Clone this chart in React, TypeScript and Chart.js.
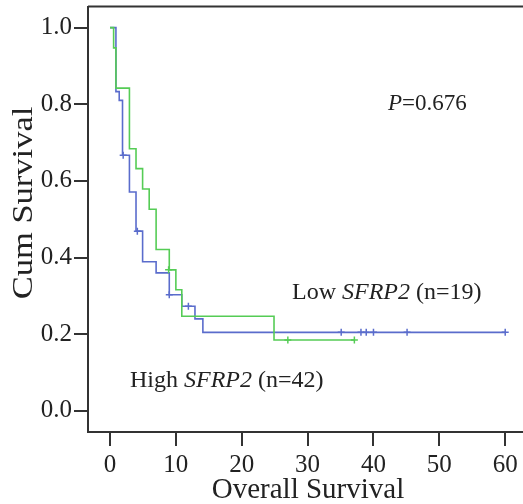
import React, { useEffect, useRef } from "react";
import { Chart, registerables } from "chart.js";

Chart.register(...registerables);

// Low SFRP2 (n=19) - green
const lowTimes = [0, 0.55, 0.9, 2.95, 3.95, 4.95, 5.95, 7.0, 9.0, 10.0, 10.9, 24.9, 37.1];
const lowSurv = [1.0, 0.947, 0.842, 0.684, 0.632, 0.579, 0.526, 0.421, 0.368, 0.316, 0.247, 0.185, 0.185];
const lowCensorTimes = [8.9, 27, 37.1];
const lowCensorSurv = [0.368, 0.185, 0.185];

// High SFRP2 (n=42) - blue
const highTimes = [0, 0.9, 1.4, 1.9, 2.95, 3.95, 4.95, 7.0, 9.0, 10.9, 12.9, 14.1, 60];
const highSurv = [1.0, 0.833, 0.81, 0.667, 0.571, 0.469, 0.389, 0.36, 0.303, 0.273, 0.24, 0.205, 0.205];
const highCensorTimes = [2.0, 4.15, 9.0, 11.9, 35.1, 38.1, 38.9, 40.0, 45.1, 60];
const highCensorSurv = [0.667, 0.469, 0.303, 0.273, 0.205, 0.205, 0.205, 0.205, 0.205, 0.205];

const xTicks = [0, 10, 20, 30, 40, 50, 60];
const yTicks = [0, 0.2, 0.4, 0.6, 0.8, 1.0];

const GREEN = "#55cc55";
const BLUE = "#5a6ccc";
const FONT = "'Liberation Serif', 'Times New Roman', serif";

const pts = (xs: number[], ys: number[]) => xs.map((x, i) => ({ x, y: ys[i] }));

const textPlugin = {
  id: "texts",
  afterDraw(chart: any) {
    const ctx = chart.ctx;
    const area = chart.chartArea;
    ctx.save();
    // top border
    ctx.strokeStyle = "#333";
    ctx.lineWidth = 2;
    ctx.beginPath();
    ctx.moveTo(area.left, area.top);
    ctx.lineTo(chart.width, area.top);
    ctx.stroke();

    ctx.fillStyle = "#222";
    ctx.textBaseline = "middle";
    const drawMixed = (parts: [string, boolean][], x: number, y: number, size: number) => {
      let cx = x;
      for (const [t, it] of parts) {
        ctx.font = `${it ? "italic " : ""}${size}px ${FONT}`;
        ctx.textAlign = "left";
        ctx.fillText(t, cx, y);
        cx += ctx.measureText(t).width;
      }
    };
    drawMixed([["P", true], ["=0.676", false]], 388, 104, 23);
    drawMixed([["Low ", false], ["SFRP2", true], [" (n=19)", false]], 292, 293, 24);
    drawMixed([["High ", false], ["SFRP2", true], [" (n=42)", false]], 130, 381, 24);

    // axis titles
    ctx.font = `29px ${FONT}`;
    ctx.textAlign = "center";
    ctx.fillText("Overall Survival", 308, 490);
    ctx.save();
    ctx.translate(24, 203);
    ctx.rotate(-Math.PI / 2);
    ctx.scale(1.15, 1);
    ctx.font = `30px ${FONT}`;
    ctx.fillText("Cum Survival", 0, 0);
    ctx.restore();
    ctx.restore();
  },
};

export default function App() {
  const ref = useRef<HTMLCanvasElement>(null);
  useEffect(() => {
    document.body.style.margin = "0";
    const canvas = ref.current!;
    const chart = new Chart(canvas, {
      type: "line",
      data: {
        datasets: [
          {
            data: pts(lowTimes, lowSurv),
            borderColor: GREEN,
            borderWidth: 1.6,
            stepped: true,
            pointRadius: 0,
            fill: false,
          },
          {
            data: pts(lowCensorTimes, lowCensorSurv),
            borderColor: GREEN,
            borderWidth: 1.5,
            showLine: false,
            pointStyle: "cross",
            pointRadius: 3.5,
          },
          {
            data: pts(highTimes, highSurv),
            borderColor: BLUE,
            borderWidth: 1.6,
            stepped: true,
            pointRadius: 0,
            fill: false,
          },
          {
            data: pts(highCensorTimes, highCensorSurv),
            borderColor: BLUE,
            borderWidth: 1.5,
            showLine: false,
            pointStyle: "cross",
            pointRadius: 3.5,
          },
        ],
      },
      options: {
        animation: false,
        responsive: false,
        events: [],
        layout: { autoPadding: false, padding: { top: 6.5, left: 0, right: 0, bottom: 0 } },
        plugins: { legend: { display: false }, tooltip: { enabled: false } },
        scales: {
          x: {
            type: "linear",
            min: -3.34,
            max: 62.7,
            afterBuildTicks: (s: any) => {
              s.ticks = xTicks.map((v) => ({ value: v }));
            },
            afterFit: (s: any) => {
              s.height = 72;
              s.paddingLeft = 0;
              s.paddingRight = 0;
            },
            grid: { drawOnChartArea: false, drawTicks: true, tickLength: 14, color: "#333", lineWidth: 2 },
            border: { display: true, color: "#333", width: 2 },
            ticks: {
              color: "#222",
              font: { family: FONT, size: 25 },
              padding: 4,
              maxRotation: 0,
              callback: (v: any) => String(v),
            },
          },
          y: {
            type: "linear",
            min: -0.055,
            max: 1.055,
            afterBuildTicks: (s: any) => {
              s.ticks = yTicks.map((v) => ({ value: v }));
            },
            afterFit: (s: any) => {
              s.width = 88;
              s.paddingTop = 0;
              s.paddingBottom = 0;
            },
            grid: { drawOnChartArea: false, drawTicks: true, tickLength: 14, color: "#333", lineWidth: 2 },
            border: { display: true, color: "#333", width: 2 },
            ticks: {
              color: "#222",
              font: { family: FONT, size: 25 },
              padding: 2,
              callback: (v: any) => Number(v).toFixed(1),
            },
          },
        },
      },
      plugins: [textPlugin],
    });
    return () => chart.destroy();
  }, []);
  return (
    <div style={{ position: "absolute", left: 0, top: 0, width: 523, height: 504 }}>
      <canvas ref={ref} width={523} height={504} style={{ width: 523, height: 504 }} />
    </div>
  );
}
